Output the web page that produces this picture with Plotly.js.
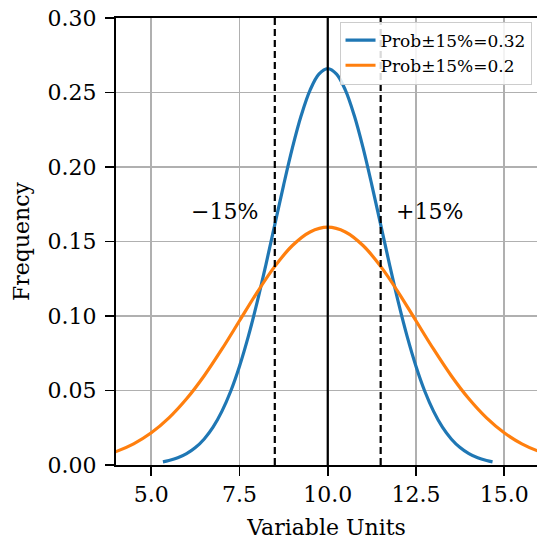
<!DOCTYPE html>
<html>
<head>
<meta charset="utf-8">
<script src="https://cdn.plot.ly/plotly-3.0.1.min.js"></script>
<style>html,body{margin:0;padding:0;background:#fff;}#chart{width:537px;height:542px;}</style>
</head>
<body>
<div id="chart"></div>
<script>
// Blue curve (narrow distribution)
const blueX = [5.33, 5.5, 5.75, 6.0, 6.25, 6.5, 6.75, 7.0, 7.25, 7.5, 7.75, 8.0, 8.25, 8.5, 8.75, 9.0, 9.25, 9.5, 9.75, 10.0,
               10.25, 10.5, 10.75, 11.0, 11.25, 11.5, 11.75, 12.0, 12.25, 12.5, 12.75, 13.0, 13.25, 13.5, 13.75, 14.0, 14.25, 14.5, 14.67];
const blueY = [0.0021, 0.0030, 0.0048, 0.0076, 0.0117, 0.0175, 0.0254, 0.0360, 0.0495, 0.0663, 0.0863, 0.1093, 0.1347, 0.1613, 0.1879, 0.2130, 0.2347, 0.2516, 0.2623, 0.2660,
               0.2623, 0.2516, 0.2347, 0.2130, 0.1879, 0.1613, 0.1347, 0.1093, 0.0863, 0.0663, 0.0495, 0.0360, 0.0254, 0.0175, 0.0117, 0.0076, 0.0048, 0.0030, 0.0021];
// Orange curve (wide distribution)
const orangeX = [3.0, 3.5, 4.0, 4.5, 5.0, 5.5, 6.0, 6.5, 7.0, 7.5, 8.0, 8.5, 9.0, 9.5, 10.0,
                 10.5, 11.0, 11.5, 12.0, 12.5, 13.0, 13.5, 14.0, 14.5, 15.0, 15.5, 16.0, 16.5, 17.0];
const orangeY = [0.0032, 0.0054, 0.0090, 0.0142, 0.0216, 0.0316, 0.0444, 0.0599, 0.0777, 0.0968, 0.1159, 0.1333, 0.1473, 0.1564, 0.1596,
                 0.1564, 0.1473, 0.1333, 0.1159, 0.0968, 0.0777, 0.0599, 0.0444, 0.0316, 0.0216, 0.0142, 0.0090, 0.0054, 0.0032];
const seriesNames = ["Prob\u00b115%=0.32", "Prob\u00b115%=0.2"];
const meanLine = 10.0;
const boundLines = [8.5, 11.5];
const labels = ["\u221215%", "+15%"];
const labelPos = [[8.09, 0.170], [11.89, 0.170]];
const xTicks = [5.0, 7.5, 10.0, 12.5, 15.0];
const xTickText = ["5.0", "7.5", "10.0", "12.5", "15.0"];
const yTicks = [0.00, 0.05, 0.10, 0.15, 0.20, 0.25, 0.30];
const yTickText = ["0.00", "0.05", "0.10", "0.15", "0.20", "0.25", "0.30"];

const FONT = "'DejaVu Serif', serif";

const traces = [
  {x: blueX, y: blueY, type: "scatter", mode: "lines", name: seriesNames[0],
   line: {color: "#1f77b4", width: 3.2, shape: "spline"}},
  {x: orangeX, y: orangeY, type: "scatter", mode: "lines", name: seriesNames[1],
   line: {color: "#ff7f0e", width: 3.2, shape: "spline"}}
];

const shapes = [
  {type: "line", xref: "x", yref: "paper", x0: meanLine, x1: meanLine, y0: 0, y1: 1,
   line: {color: "black", width: 2.2}},
  ...boundLines.map(v => ({type: "line", xref: "x", yref: "paper", x0: v, x1: v, y0: 0, y1: 1,
   line: {color: "black", width: 2.2, dash: "7px,4px"}}))
];

const annotations = [
  {x: labelPos[0][0], y: labelPos[0][1], xref: "x", yref: "y", text: labels[0], showarrow: false,
   xanchor: "right", yanchor: "middle", font: {family: FONT, size: 22, color: "black"}},
  {x: labelPos[1][0], y: labelPos[1][1], xref: "x", yref: "y", text: labels[1], showarrow: false,
   xanchor: "left", yanchor: "middle", font: {family: FONT, size: 22, color: "black"}}
];

const layout = {
  width: 537, height: 542,
  margin: {l: 116, r: 0, t: 18, b: 77},
  paper_bgcolor: "white", plot_bgcolor: "white",
  font: {family: FONT, size: 22, color: "black"},
  showlegend: true,
  legend: {x: 0.987, y: 0.992, xanchor: "right", yanchor: "top",
           bgcolor: "rgba(255,255,255,0.85)", bordercolor: "#cccccc", borderwidth: 1,
           font: {family: FONT, size: 17, color: "black"}, tracegroupgap: 0},
  xaxis: {range: [4.0, 15.93], tickvals: xTicks, ticktext: xTickText,
          showgrid: true, gridcolor: "#b0b0b0", gridwidth: 1.7,
          showline: true, linecolor: "black", linewidth: 2, mirror: true,
          ticks: "outside", ticklen: 9, tickwidth: 1.8, tickcolor: "black",
          zeroline: false, tickfont: {family: FONT, size: 22},
          title: {text: "Variable Units", font: {family: FONT, size: 22}, standoff: 13}},
  yaxis: {range: [0, 0.30], tickvals: yTicks, ticktext: yTickText,
          showgrid: true, gridcolor: "#b0b0b0", gridwidth: 1.7,
          showline: true, linecolor: "black", linewidth: 2,
          ticks: "outside", ticklen: 9, tickwidth: 1.8, tickcolor: "black",
          ticklabelstandoff: 4,
          zeroline: false, tickfont: {family: FONT, size: 22},
          title: {text: "Frequency", font: {family: FONT, size: 22}, standoff: 12}},
  shapes: shapes,
  annotations: annotations
};

Plotly.newPlot("chart", traces, layout, {displayModeBar: false, staticPlot: true});
</script>
</body>
</html>
